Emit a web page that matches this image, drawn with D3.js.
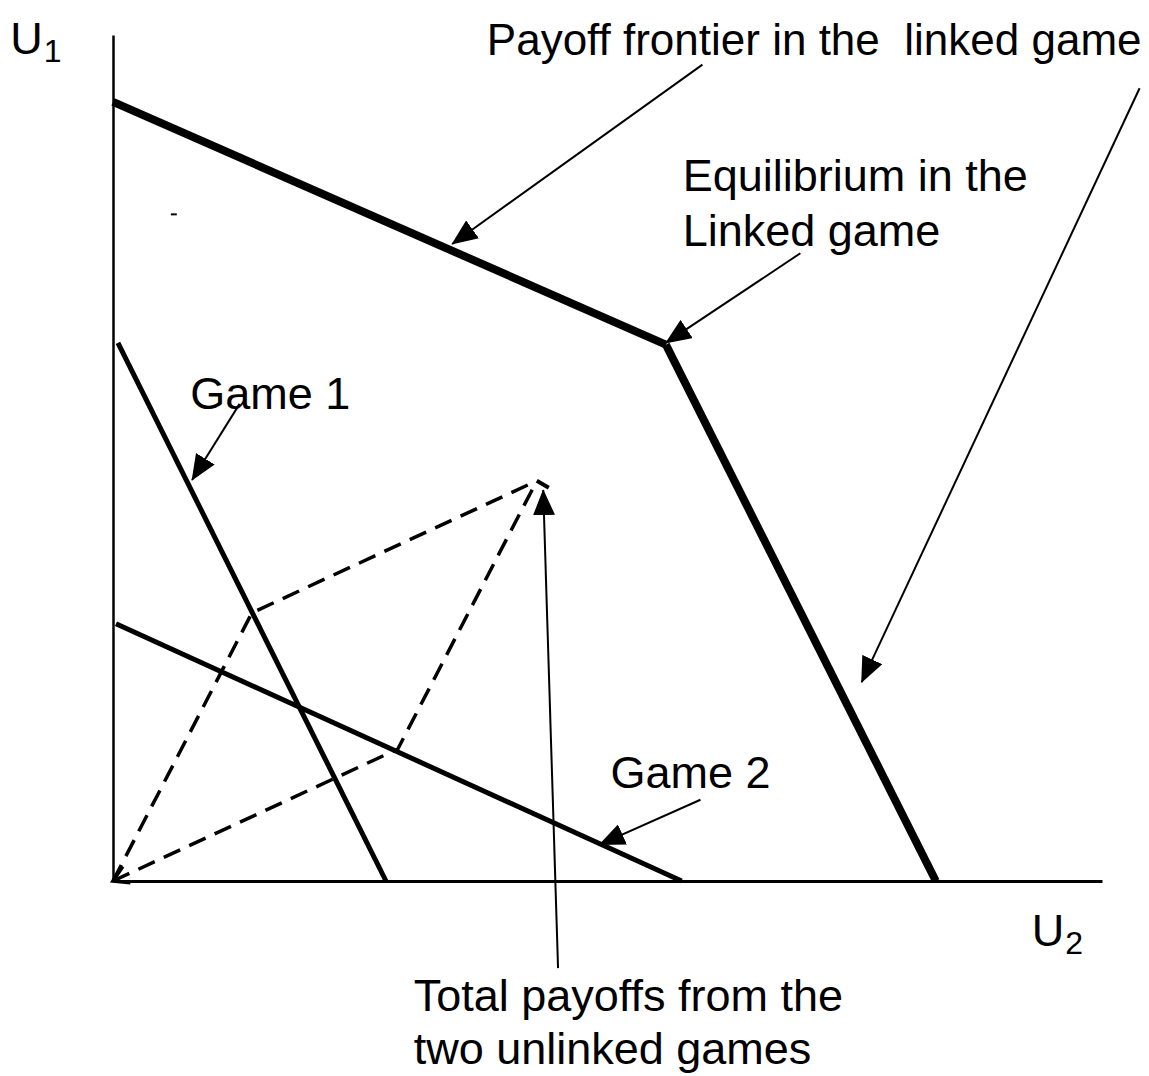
<!DOCTYPE html>
<html>
<head>
<meta charset="utf-8">
<script src="https://cdn.jsdelivr.net/npm/d3@7"></script>
<style>
  body { margin: 0; background: #fff; }
  svg { display: block; font-family: "Liberation Sans", Arial, sans-serif; }
</style>
</head>
<body>
<div id="chart"></div>
<script>
// payoff space, U2 on x, U1 on y (arbitrary units 0..100)
const frontier = [[0, 92.1], [55.9, 63.4], [83.2, 0]];
const game1 = [[0.5, 63.6], [27.6, 0]];
const game2 = [[0.3, 30.4], [57.5, 0]];
const origin = [0, 0];
const pointA = [14.05, 31.7];   // on game 1
const pointB = [28.8, 15.6];    // on game 2
const pointC = [42.85, 47.3];   // A + B

// annotation arrows: [tail, tip]
const arrows = [
  [[59.6, 96.5], [34.3, 75.3]],
  [[103.8, 93.7], [75.7, 23.5]],
  [[69.5, 74.2], [55.9, 63.6]],
  [[12.8, 56.4], [8.0, 47.4]],
  [[59.4, 9.6], [49.2, 4.3]],
  [[45.0, -10.3], [43.5, 46.2]]
];

// labels: [x, y(baseline), text, font size]
const labels = [
  [37.8, 97.6, "Payoff frontier in the\u00a0\u00a0linked game", 44],
  [57.6, 81.6, "Equilibrium in the", 45],
  [57.6, 75.1, "Linked game", 45],
  [7.8, 55.8, "Game 1", 45],
  [50.3, 11.0, "Game 2", 45],
  [30.4, -15.4, "Total payoffs from the", 45],
  [30.4, -21.6, "two unlinked games", 45]
];

const W = 1149, H = 1076;
const svg = d3.select("#chart").append("svg")
  .attr("width", W).attr("height", H);

svg.append("rect").attr("width", W).attr("height", H).attr("fill", "#fff");

const x = d3.scaleLinear().domain([0, 100]).range([113, 1102]);
const y = d3.scaleLinear().domain([0, 100]).range([881, 35]);

// markers
const defs = svg.append("defs");
defs.append("marker")
  .attr("id", "head")
  .attr("markerUnits", "userSpaceOnUse")
  .attr("viewBox", "0 0 26 22")
  .attr("refX", 25).attr("refY", 11)
  .attr("markerWidth", 26).attr("markerHeight", 22)
  .attr("orient", "auto")
  .append("path")
  .attr("d", "M0,0 L26,11 L0,22 Z")
  .attr("fill", "#000");

defs.append("marker")
  .attr("id", "chev")
  .attr("markerUnits", "userSpaceOnUse")
  .attr("viewBox", "-20 -12 24 24")
  .attr("refX", 0).attr("refY", 0)
  .attr("markerWidth", 24).attr("markerHeight", 24)
  .attr("orient", "auto-start-reverse")
  .append("path")
  .attr("d", "M-15,-9 L0,0 L-15,9")
  .attr("fill", "none")
  .attr("stroke", "#000")
  .attr("stroke-width", 3.5);

defs.append("marker")
  .attr("id", "tick")
  .attr("markerUnits", "userSpaceOnUse")
  .attr("viewBox", "-4 -4 24 24")
  .attr("refX", 0).attr("refY", 0)
  .attr("markerWidth", 24).attr("markerHeight", 24)
  .attr("orient", "0")
  .append("path")
  .attr("d", "M0,0 L12,7")
  .attr("fill", "none")
  .attr("stroke", "#000")
  .attr("stroke-width", 4);

// axes
svg.append("g")
  .attr("transform", `translate(0,${y(0)})`)
  .call(d3.axisBottom(x).ticks(0).tickSizeOuter(0))
  .select(".domain").attr("stroke", "#000").attr("stroke-width", 3);

svg.append("g")
  .attr("transform", `translate(${x(0)},0)`)
  .call(d3.axisLeft(y).ticks(0).tickSizeOuter(0))
  .select(".domain").attr("stroke", "#000").attr("stroke-width", 2.5);

const line = d3.line().x(d => x(d[0])).y(d => y(d[1]));

// dashed parallelogram
svg.append("path")
  .attr("d", line([origin, pointA, pointC]))
  .attr("fill", "none").attr("stroke", "#000")
  .attr("stroke-width", 3.5).attr("stroke-dasharray", "18,10")
  .attr("marker-end", "url(#tick)");

svg.append("path")
  .attr("d", line([origin, pointB, pointC]))
  .attr("fill", "none").attr("stroke", "#000")
  .attr("stroke-width", 3.5).attr("stroke-dasharray", "18,10")
  .attr("marker-start", "url(#chev)");

// game lines
[game1, game2].forEach(g => {
  svg.append("path")
    .attr("d", line(g))
    .attr("fill", "none").attr("stroke", "#000")
    .attr("stroke-width", 5);
});

// frontier as two thick segments
d3.pairs(frontier).forEach(seg => {
  svg.append("path")
    .attr("d", line(seg))
    .attr("fill", "none").attr("stroke", "#000")
    .attr("stroke-width", 8);
});

// stray mark
svg.append("line")
  .attr("x1", x(5.85)).attr("x2", x(6.45))
  .attr("y1", y(78.8)).attr("y2", y(78.8))
  .attr("stroke", "#000").attr("stroke-width", 2);

// annotation arrows
svg.selectAll(".arrow")
  .data(arrows)
  .enter().append("path")
  .attr("class", "arrow")
  .attr("d", d => line(d))
  .attr("fill", "none").attr("stroke", "#000")
  .attr("stroke-width", 2)
  .attr("marker-end", "url(#head)");

// labels
svg.selectAll(".lbl")
  .data(labels)
  .enter().append("text")
  .attr("class", "lbl")
  .attr("x", d => x(d[0]))
  .attr("y", d => y(d[1]))
  .style("font-size", d => d[3] + "px")
  .style("fill", "#000")
  .text(d => d[2]);

// axis titles with subscripts
const axisTitles = [[-10.4, 97.8, "U", "1"], [92.9, -7.7, "U", "2"]];
axisTitles.forEach(t => {
  const txt = svg.append("text")
    .attr("x", x(t[0])).attr("y", y(t[1]))
    .style("font-size", "45px")
    .style("fill", "#000");
  txt.append("tspan").text(t[2]);
  txt.append("tspan")
    .attr("dx", 1).attr("dy", 8)
    .style("font-size", "32px")
    .text(t[3]);
});
</script>
</body>
</html>
